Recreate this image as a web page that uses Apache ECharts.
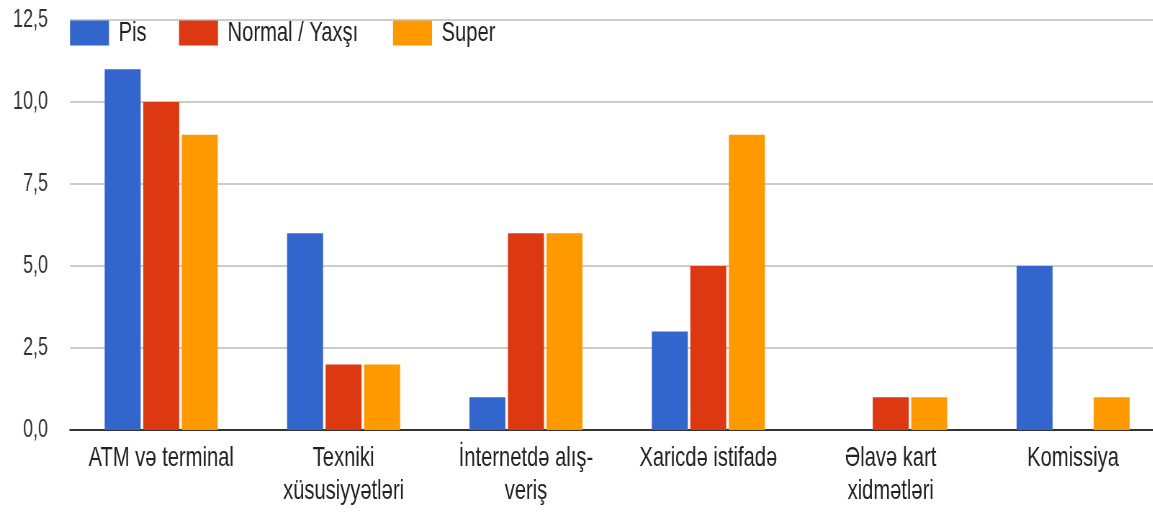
<!DOCTYPE html>
<html>
<head>
<meta charset="utf-8">
<script src="https://cdn.jsdelivr.net/npm/echarts@6/dist/echarts.min.js"></script>
<style>
  html, body { margin: 0; padding: 0; background: #fff; overflow: hidden; }
  #wrap { width: 1153px; height: 515px; overflow: hidden; }
  #chart { height: 515px; transform-origin: 0 0; }
</style>
</head>
<body>
<div id="wrap"><div id="chart"></div></div>
<script>
// Card feature ratings by category
const categories = [
  'ATM və terminal',
  'Texniki\nxüsusiyyətləri',
  'İnternetdə alış-\nveriş',
  'Xaricdə istifadə',
  'Əlavə kart\nxidmətləri',
  'Komissiya'
];
const seriesNames = ['Pis', 'Normal / Yaxşı', 'Super'];
const pisValues = [11, 6, 1, 3, 0, 5];
const normalValues = [10, 2, 6, 5, 1, 0];
const superValues = [9, 2, 6, 9, 1, 1];
const yTicks = [0, 2.5, 5, 7.5, 10, 12.5];

const colors = ['#3366cc', '#dc3912', '#ff9900'];
const FONT = '"Liberation Sans", Arial, sans-serif';

// The text face is a condensed one: the chart is laid out on a wider
// canvas and squeezed horizontally, so every x value goes through sx().
// The plot runs slightly past the right edge of the visible frame.
const S = 0.72;
const PLOT_RIGHT = 1164;
const WIDTH = PLOT_RIGHT / S;
const sx = v => v / S;

const el = document.getElementById('chart');
el.style.width = WIDTH + 'px';
el.style.transform = 'scaleX(' + S + ')';

const chart = echarts.init(el);
const seriesData = [pisValues, normalValues, superValues];
const legendLeft = [70, 179, 393];

chart.setOption({
  animation: false,
  color: colors,
  legend: seriesNames.map((name, i) => ({
    left: sx(legendLeft[i]),
    top: 19,
    padding: 0,
    itemWidth: sx(39),
    itemHeight: 25,
    icon: 'rect',
    textStyle: { fontFamily: FONT, fontSize: 28, color: '#222', padding: [0, 0, 0, sx(6)] },
    data: [name]
  })),
  grid: { left: sx(70), right: 0, top: 20, bottom: 85, containLabel: false },
  xAxis: {
    type: 'category',
    data: categories,
    axisLine: { lineStyle: { color: '#333', width: 2 } },
    axisTick: { show: false },
    axisLabel: {
      fontFamily: FONT,
      fontSize: 28,
      color: '#222',
      lineHeight: 33,
      margin: 12,
      interval: 0
    }
  },
  yAxis: {
    type: 'value',
    min: yTicks[0],
    max: yTicks[yTicks.length - 1],
    interval: 2.5,
    axisLine: { show: false },
    axisTick: { show: false },
    splitLine: { lineStyle: { color: '#cccccc', width: 2 } },
    axisLabel: {
      fontFamily: FONT,
      fontSize: 25,
      color: '#333',
      margin: sx(22),
      formatter: v => v.toFixed(1).replace('.', ',')
    }
  },
  series: seriesNames.map((name, i) => ({
    name,
    type: 'bar',
    data: seriesData[i],
    barWidth: sx(36),
    barGap: '7%',
    itemStyle: { color: colors[i] }
  }))
});
</script>
</body>
</html>
